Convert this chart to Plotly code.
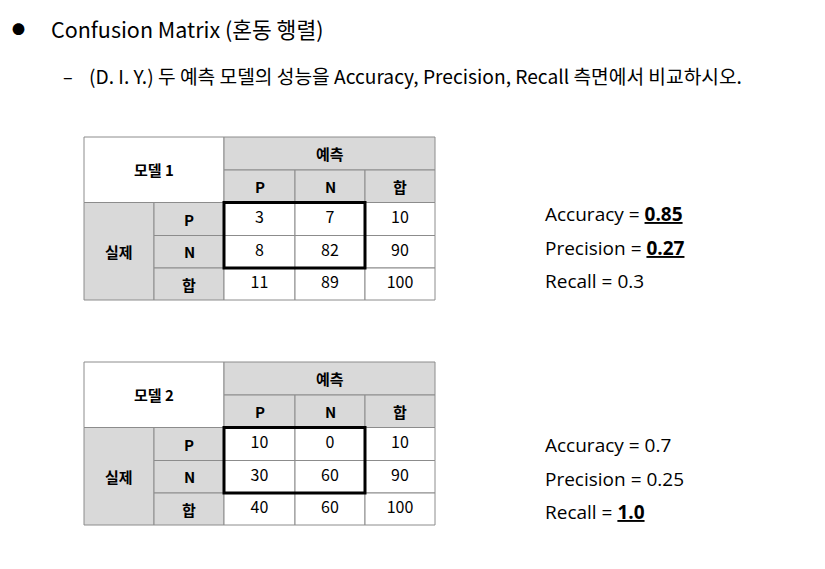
import plotly.graph_objects as go

# data
title = "Confusion Matrix (혼동 행렬)"
subtitle = "(D. I. Y.) 두 예측 모델의 성능을 Accuracy, Precision, Recall 측면에서 비교하시오."
model_names = ["모델 1", "모델 2"]
class_labels = ["P", "N", "합"]
pred_label = "예측"
actual_label = "실제"

matrix1 = [[3, 7], [8, 82]]
row_tot1 = [10, 90]
col_tot1 = [11, 89, 100]

matrix2 = [[10, 0], [30, 60]]
row_tot2 = [10, 90]
col_tot2 = [40, 60, 100]

metric_names = ["Accuracy", "Precision", "Recall"]
metric_vals1 = ["0.85", "0.27", "0.3"]
metric_mark1 = [True, True, False]
metric_vals2 = ["0.7", "0.25", "1.0"]
metric_mark2 = [False, False, True]

# layout constants (page pixels on a 825x569 canvas)
W, H = 825, 569
PAD = 8  # body margin of the html page
col_x = [84, 154, 224, 295, 365, 435]
row_off = [0, 33, 65.5, 98.5, 131, 163]
table_top = [137, 362]
metric_x = 543
metric_y0 = [214, 445]
metric_dy = 33.5

GRAY = "#d9d9d9"
LINE = "#8c8c8c"
FONT = "Noto Sans CJK KR"
LATIN = "Open Sans, Noto Sans CJK KR"

fig = go.Figure()
shapes = []
annos = []


def rect(x0, x1, y0, y1, fill):
    shapes.append(dict(type="rect", xref="x", yref="y", x0=x0, x1=x1, y0=y0, y1=y1,
                       fillcolor=fill, line=dict(color=LINE, width=1), layer="below"))


def label(x, y, text, size=15, bold=False, color="#000"):
    annos.append(dict(x=x, y=y, xref="x", yref="y", text=f"<b>{text}</b>" if bold else text,
                      showarrow=False, font=dict(family=FONT, size=size, color=color)))


def draw_table(top, name, matrix, row_tot, col_tot):
    ry = [top + o for o in row_off]
    cx = col_x
    # corner cell
    rect(cx[0], cx[2], ry[0], ry[2], "white")
    label((cx[0] + cx[2]) / 2, (ry[0] + ry[2]) / 2, name, bold=True)
    # predicted header
    rect(cx[2], cx[5], ry[0], ry[1], GRAY)
    label((cx[2] + cx[5]) / 2, (ry[0] + ry[1]) / 2, pred_label, bold=True)
    for j, lab in enumerate(class_labels):
        rect(cx[2 + j], cx[3 + j], ry[1], ry[2], GRAY)
        label((cx[2 + j] + cx[3 + j]) / 2, (ry[1] + ry[2]) / 2, lab, bold=True)
    # actual header
    rect(cx[0], cx[1], ry[2], ry[5], GRAY)
    label((cx[0] + cx[1]) / 2, (ry[2] + ry[5]) / 2, actual_label, bold=True)
    for i, lab in enumerate(class_labels):
        rect(cx[1], cx[2], ry[2 + i], ry[3 + i], GRAY)
        label((cx[1] + cx[2]) / 2, (ry[2 + i] + ry[3 + i]) / 2, lab, bold=True)
    # values
    rows = [matrix[0] + [row_tot[0]], matrix[1] + [row_tot[1]], col_tot]
    xs, ys, ts = [], [], []
    for i, row in enumerate(rows):
        for j, v in enumerate(row):
            rect(cx[2 + j], cx[3 + j], ry[2 + i], ry[3 + i], "white")
            xs.append((cx[2 + j] + cx[3 + j]) / 2)
            ys.append((ry[2 + i] + ry[3 + i]) / 2)
            ts.append(str(v))
    fig.add_trace(go.Scatter(x=xs, y=ys, text=ts, mode="text", hoverinfo="skip",
                             textfont=dict(family=FONT, size=16, color="#000")))
    # thick frame around the 2x2 matrix
    shapes.append(dict(type="rect", xref="x", yref="y", x0=cx[2], x1=cx[4], y0=ry[2], y1=ry[4],
                       line=dict(color="black", width=3), layer="above"))


def draw_metrics(y0, vals, marks):
    for k, (n, v, m) in enumerate(zip(metric_names, vals, marks)):
        vt = f'<span style="text-decoration:underline"><b>{v}</b></span>' if m else v
        annos.append(dict(x=metric_x, y=y0 + k * metric_dy, xref="x", yref="y", xanchor="left",
                          text=f"{n} = {vt}", showarrow=False,
                          font=dict(family=LATIN, size=19, color="#000")))


draw_table(table_top[0], model_names[0], matrix1, row_tot1, col_tot1)
draw_table(table_top[1], model_names[1], matrix2, row_tot2, col_tot2)
draw_metrics(metric_y0[0], metric_vals1, metric_mark1)
draw_metrics(metric_y0[1], metric_vals2, metric_mark2)

# header lines
annos.append(dict(x=18, y=28, xref="x", yref="y", text="●", showarrow=False,
                  font=dict(family=FONT, size=13, color="#000")))
annos.append(dict(x=49, y=28, xref="x", yref="y", xanchor="left", text=title, showarrow=False,
                  font=dict(family=FONT, size=21.5, color="#000")))
annos.append(dict(x=61, y=76, xref="x", yref="y", xanchor="left", text="–", showarrow=False,
                  font=dict(family=FONT, size=18, color="#000")))
annos.append(dict(x=87, y=76, xref="x", yref="y", xanchor="left", text=subtitle, showarrow=False,
                  font=dict(family=FONT, size=19.2, color="#000")))

# the plot div sits PAD px inside the page, so shift the ranges to keep page coordinates
fig.update_layout(
    width=W, height=H,
    margin=dict(l=0, r=0, t=0, b=0),
    plot_bgcolor="white", paper_bgcolor="white",
    showlegend=False,
    shapes=shapes, annotations=annos,
    xaxis=dict(range=[PAD, W + PAD], visible=False, fixedrange=True),
    yaxis=dict(range=[H + PAD, PAD], visible=False, fixedrange=True),
)

fig.write_html("out.html")
